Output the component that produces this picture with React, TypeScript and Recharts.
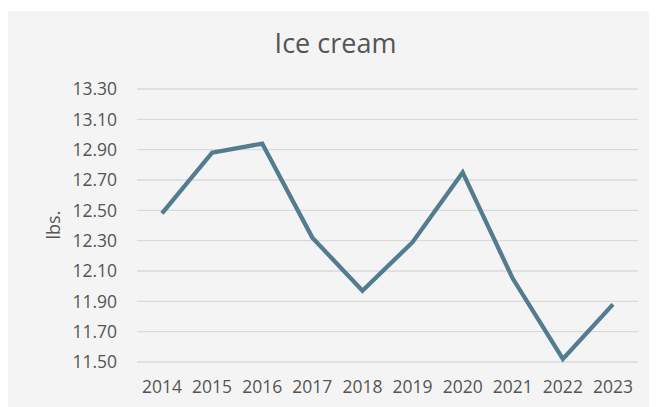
import { LineChart, Line, XAxis, YAxis, CartesianGrid } from "recharts";

const years = ["2014", "2015", "2016", "2017", "2018", "2019", "2020", "2021", "2022", "2023"];
const lbs = [12.48, 12.88, 12.94, 12.32, 11.97, 12.29, 12.75, 12.05, 11.52, 11.88];
const yTicks = [11.5, 11.7, 11.9, 12.1, 12.3, 12.5, 12.7, 12.9, 13.1, 13.3];

const data = years.map((year, i) => ({ year, lbs: lbs[i] }));

const FONT = "'Open Sans', sans-serif";
const TEXT = "#555555";

export default function App() {
  return (
    <div
      style={{
        position: "relative",
        marginTop: 3,
        width: 647,
        height: 396,
        background: "#f4f4f4",
        fontFamily: FONT,
      }}
    >
      <div
        style={{
          position: "absolute",
          top: 13,
          left: 0,
          width: 655,
          textAlign: "center",
          fontSize: 27,
          color: TEXT,
        }}
      >
        Ice cream
      </div>
      <div
        style={{
          position: "absolute",
          left: 45,
          top: 214,
          transform: "translate(-50%, -50%) rotate(-90deg)",
          fontSize: 18,
          color: TEXT,
        }}
      >
        lbs.
      </div>
      <LineChart
        width={647}
        height={396}
        data={data}
        margin={{ top: 78, right: 17, left: 0, bottom: 0 }}
        style={{ position: "absolute", top: 0, left: 0 }}
      >
        <CartesianGrid vertical={false} stroke="#dadada" strokeWidth={1.3} />
        <XAxis
          dataKey="year"
          axisLine={false}
          tickLine={false}
          tickSize={0}
          tickMargin={19}
          height={45}
          padding={{ left: 25, right: 25 }}
          interval={0}
          tick={{ fill: TEXT, fontSize: 17.5, fontFamily: FONT }}
        />
        <YAxis
          domain={[11.5, 13.3]}
          ticks={yTicks}
          tickFormatter={(v: number) => v.toFixed(2)}
          axisLine={false}
          tickLine={false}
          tickSize={0}
          tickMargin={20}
          width={129}
          tick={{ fill: TEXT, fontSize: 17.5, fontFamily: FONT }}
        />
        <Line
          type="linear"
          dataKey="lbs"
          stroke="#537c90"
          strokeWidth={4.3}
          dot={false}
          isAnimationActive={false}
        />
      </LineChart>
    </div>
  );
}
